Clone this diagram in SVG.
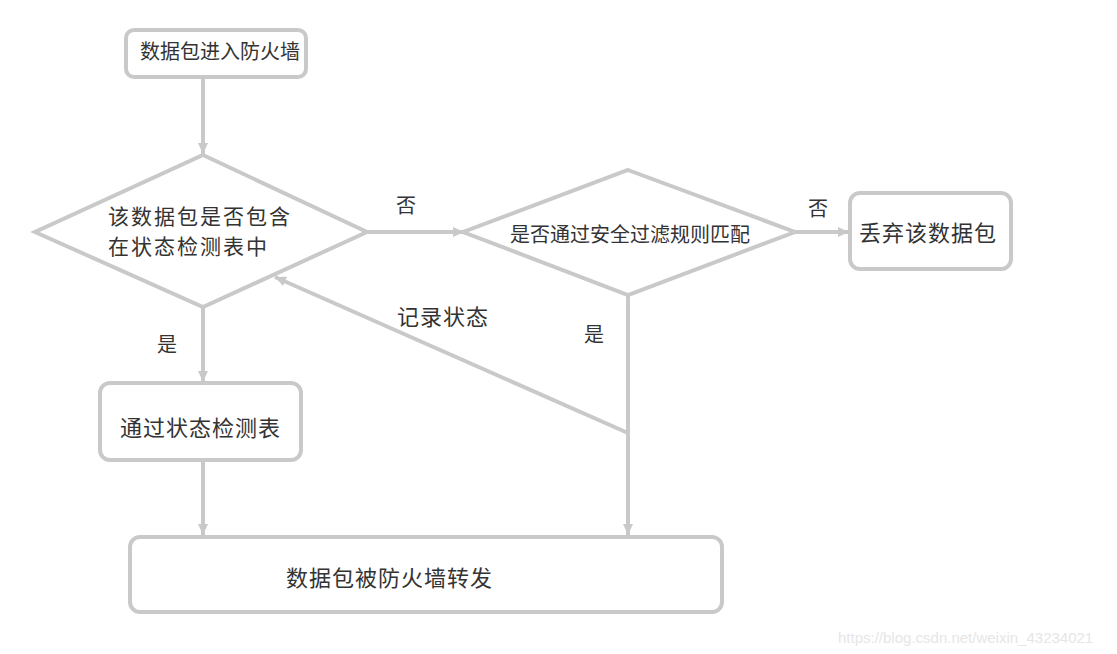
<svg xmlns="http://www.w3.org/2000/svg" width="1117" height="654" viewBox="0 0 1117 654">
<style>
.shape{fill:#ffffff;stroke:#c9c9c9;stroke-width:4}
.edge{fill:none;stroke:#c9c9c9;stroke-width:4}
text{font-family:"Noto Sans CJK SC","Liberation Sans",sans-serif;fill:#333333;dominant-baseline:central}
.t20{font-size:20px}
.t22{font-size:22px;letter-spacing:1px}
.t21{font-size:21px;letter-spacing:2px}
.t19{font-size:20px}
.lbl{font-size:20px;text-anchor:middle}
.wm{font-family:"Liberation Sans",sans-serif;font-size:15px;fill:#e6e6e6}
</style>
<defs>
<marker id="arr" markerUnits="userSpaceOnUse" markerWidth="12" markerHeight="12" refX="11" refY="6" orient="auto">
<path d="M0,1 L11,6 L0,11 Z" fill="#c9c9c9"/>
</marker>
</defs>
<rect x="0" y="0" width="1117" height="654" fill="#ffffff"/>
<g id="connectors">
<line class="edge" x1="203" y1="77" x2="203" y2="154" marker-end="url(#arr)"/>
<line class="edge" x1="367" y1="232" x2="464" y2="232" marker-end="url(#arr)"/>
<line class="edge" x1="795" y1="232" x2="849" y2="232" marker-end="url(#arr)"/>
<line class="edge" x1="203" y1="307" x2="203" y2="382" marker-end="url(#arr)"/>
<line class="edge" x1="203" y1="460" x2="203" y2="535" marker-end="url(#arr)"/>
<line class="edge" x1="628" y1="295" x2="628" y2="535" marker-end="url(#arr)"/>
<line class="edge" x1="628" y1="433" x2="275" y2="277" marker-end="url(#arr)"/>
<text class="lbl" x="406" y="204">否</text>
<text class="lbl" x="818" y="207">否</text>
<text class="lbl" x="167" y="343">是</text>
<text class="lbl" x="594" y="333">是</text>
<text class="t22" x="397" y="315">记录状态</text>
</g>
<g id="start">
<rect class="shape" x="126" y="30" width="180" height="47" rx="8"/>
<text class="t20" x="140" y="50">数据包进入防火墙</text>
</g>
<g id="check-table">
<polygon class="shape" points="203,155 367,232 203,307 35,232"/>
<text class="t21" x="108" y="215">该数据包是否包含</text>
<text class="t21" x="108" y="245">在状态检测表中</text>
</g>
<g id="check-rules">
<polygon class="shape" points="628,170 795,232 628,295 463,232"/>
<text class="t19" x="510" y="233">是否通过安全过滤规则匹配</text>
</g>
<g id="drop">
<rect class="shape" x="850" y="193" width="161" height="76" rx="10"/>
<text class="t22" x="859" y="231">丢弃该数据包</text>
</g>
<g id="pass-table">
<rect class="shape" x="100" y="383" width="201" height="77" rx="10"/>
<text class="t22" x="120" y="426">通过状态检测表</text>
</g>
<g id="forward">
<rect class="shape" x="130" y="537" width="592" height="75" rx="10"/>
<text class="t22" x="286" y="576">数据包被防火墙转发</text>
</g>
<text class="wm" x="838" y="637">https://blog.csdn.net/weixin_43234021</text>
</svg>
